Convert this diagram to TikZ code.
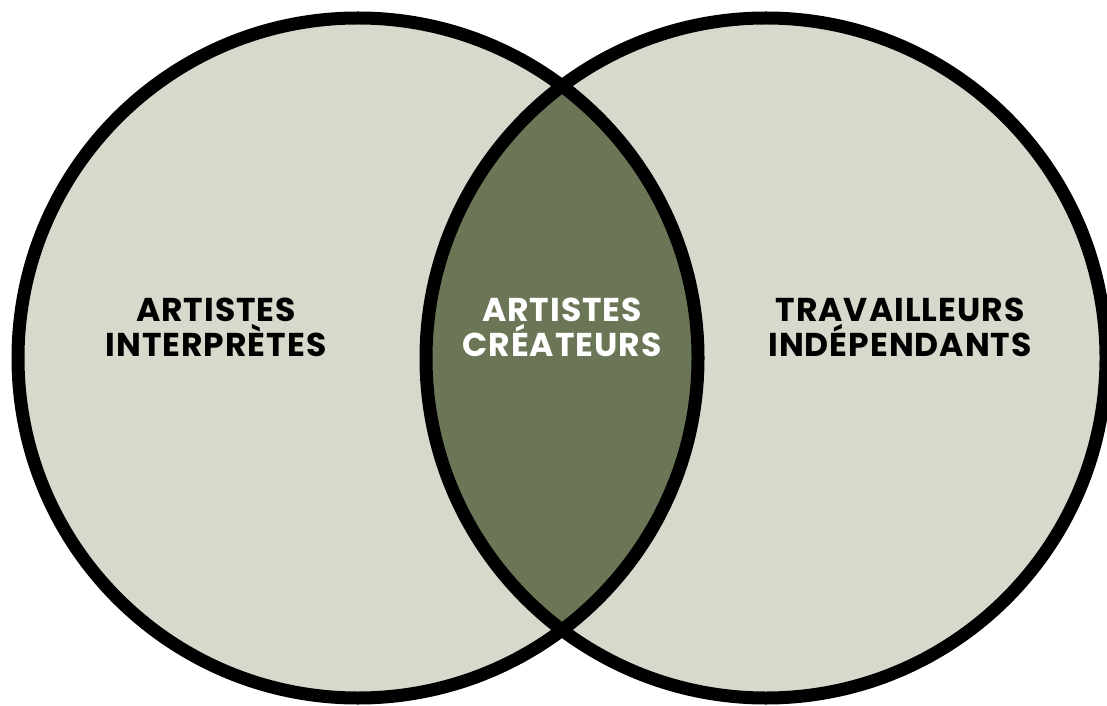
\documentclass[tikz,border=0pt]{standalone}
\usepackage{fontspec}
\setmainfont{Poppins}[LetterSpace=3]
\definecolor{lightfill}{HTML}{D8D9CC}
\definecolor{darkfill}{HTML}{6B7657}
\begin{document}
\begin{tikzpicture}[x=1pt,y=1pt,
  ring/.style={draw=black,line width=13pt},
  lbl/.style={align=center,font=\fontsize{33}{35}\selectfont\bfseries,inner sep=0pt}]
\useasboundingbox (0,0) rectangle (1107,705);
\clip (0,0) rectangle (1107,705);
\coordinate (L) at (358,347);
\coordinate (R) at (766,347);
\fill[lightfill] (L) circle (340);
\fill[lightfill] (R) circle (340);
\begin{scope}
  \clip (L) circle (340);
  \fill[darkfill] (R) circle (340);
\end{scope}
\draw[ring] (L) circle (340);
\draw[ring] (R) circle (340);
\node[lbl,text=black] (left) at (216,378) {ARTISTES\\INTERPRÈTES};
\node[lbl,text=white] (mid) at (562,378) {ARTISTES\\CRÉATEURS};
\node[lbl,text=black] (right) at (900,378) {TRAVAILLEURS\\INDÉPENDANTS};
\end{tikzpicture}
\end{document}
